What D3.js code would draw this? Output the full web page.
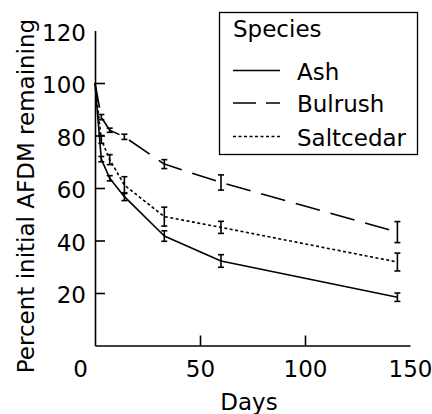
<!DOCTYPE html>
<html>
<head>
<meta charset="utf-8">
<script src="https://cdn.jsdelivr.net/npm/d3@7"></script>
<style>
  body { margin: 0; background: #fff; }
  svg { display: block; }
  text { font-family: "DejaVu Sans", sans-serif; fill: #000; }
</style>
</head>
<body>
<svg></svg>
<script>
// sampling days and percent AFDM remaining
const days = [0, 3, 7, 14, 33, 60, 144];
const ash = [100, 71, 63.7, 56.7, 41.7, 32.2, 18.4];
const ashErr = [0, 1, 1, 1.5, 2, 2.4, 1.6];
const bulrush = [100, 87, 82, 79.5, 69.1, 62.1, 43.2];
const bulrushErr = [0, 1, 0.8, 1, 1.7, 2.9, 4];
const saltcedar = [100, 78.5, 70.8, 61.1, 49.1, 45, 31.8];
const saltcedarErr = [0, 1.5, 1.9, 3.2, 3.6, 2.3, 3.4];
const xTicks = [0, 50, 100, 150];
const yTicks = [20, 40, 60, 80, 100, 120];

let svg = d3.select("svg").attr("width", 432).attr("height", 414);

let x = d3.scaleLinear().domain([0, 150]).range([95, 410]),
    y = d3.scaleLinear().domain([0, 120]).range([345.5, 30.5]);

let series = [
    {name: "Ash", vals: ash, err: ashErr, dash: null},
    {name: "Bulrush", vals: bulrush, err: bulrushErr, dash: "25,11"},
    {name: "Saltcedar", vals: saltcedar, err: saltcedarErr, dash: "3,2.5"}
];

let line = d3.line()
    .x(function(d) { return x(d.day); })
    .y(function(d) { return y(d.v); });

// y axis, ticks pointing inward
let yAxis = svg.append("g")
    .attr("transform", "translate(" + x(0) + ",0)")
    .call(d3.axisLeft(y).tickValues(yTicks).tickSize(-10).tickSizeOuter(0).tickPadding(9));
yAxis.selectAll(".tick line").filter(function(d) { return d === 120; }).remove();
yAxis.selectAll(".tick text").attr("dy", "0.43em");

// x axis
let xAxis = svg.append("g")
    .attr("transform", "translate(0," + y(0) + ")")
    .call(d3.axisBottom(x).tickValues(xTicks).tickSize(-10).tickSizeOuter(0).tickPadding(15));
xAxis.selectAll(".tick line").filter(function(d) { return d === 0 || d === 150; }).remove();
xAxis.selectAll(".tick text").filter(function(d) { return d === 0; }).attr("x", -15);

svg.selectAll(".domain, .tick line").attr("stroke", "#000").attr("stroke-width", 1.6);
svg.selectAll(".tick text").style("font-size", "23px").attr("font-family", null);

// axis titles
svg.append("text")
    .text("Days")
    .attr("x", 249)
    .attr("y", 410)
    .attr("text-anchor", "middle")
    .style("font-size", "23px");

svg.append("text")
    .text("Percent initial AFDM remaining")
    .attr("transform", "translate(34,196) rotate(-90)")
    .attr("text-anchor", "middle")
    .style("font-size", "23px");

// lines and error bars
series.forEach(function(s) {
    let pts = days.map(function(d, i) { return {day: d, v: s.vals[i], e: s.err[i]}; });
    let g = svg.append("g");
    g.append("path")
        .attr("d", line(pts))
        .attr("fill", "none")
        .attr("stroke", "#000")
        .attr("stroke-width", 1.6)
        .attr("stroke-linejoin", "round")
        .attr("stroke-dasharray", s.dash);

    let bars = g.selectAll(".err")
        .data(pts.filter(function(p) { return p.e > 0; }))
        .enter().append("g")
        .attr("class", "err");
    bars.append("line")
        .attr("x1", function(p) { return x(p.day); })
        .attr("x2", function(p) { return x(p.day); })
        .attr("y1", function(p) { return y(p.v + p.e); })
        .attr("y2", function(p) { return y(p.v - p.e); });
    [1, -1].forEach(function(sign) {
        bars.append("line")
            .attr("x1", function(p) { return x(p.day) - 3; })
            .attr("x2", function(p) { return x(p.day) + 3; })
            .attr("y1", function(p) { return y(p.v + sign * p.e); })
            .attr("y2", function(p) { return y(p.v + sign * p.e); });
    });
    bars.selectAll("line").attr("stroke", "#000").attr("stroke-width", 1.6);
});

// legend
let legend = svg.append("g");
legend.append("rect")
    .attr("x", 219.5).attr("y", 12.5)
    .attr("width", 198).attr("height", 142)
    .attr("fill", "#fff")
    .attr("stroke", "#000")
    .attr("stroke-width", 1.3);
legend.append("text")
    .text("Species")
    .attr("x", 233).attr("y", 37)
    .style("font-size", "23px");

let rows = legend.selectAll(".row")
    .data(series)
    .enter().append("g")
    .attr("class", "row")
    .attr("transform", function(d, i) { return "translate(0," + [70.5, 103, 136.5][i] + ")"; });
rows.append("line")
    .attr("x1", 233).attr("x2", 280)
    .attr("stroke", "#000")
    .attr("stroke-width", 1.6)
    .attr("stroke-dasharray", function(d) { return d.dash === "25,11" ? "23,10" : d.dash; });
rows.append("text")
    .text(function(d) { return d.name; })
    .attr("x", 297)
    .attr("y", 9)
    .style("font-size", "23px");
</script>
</body>
</html>
